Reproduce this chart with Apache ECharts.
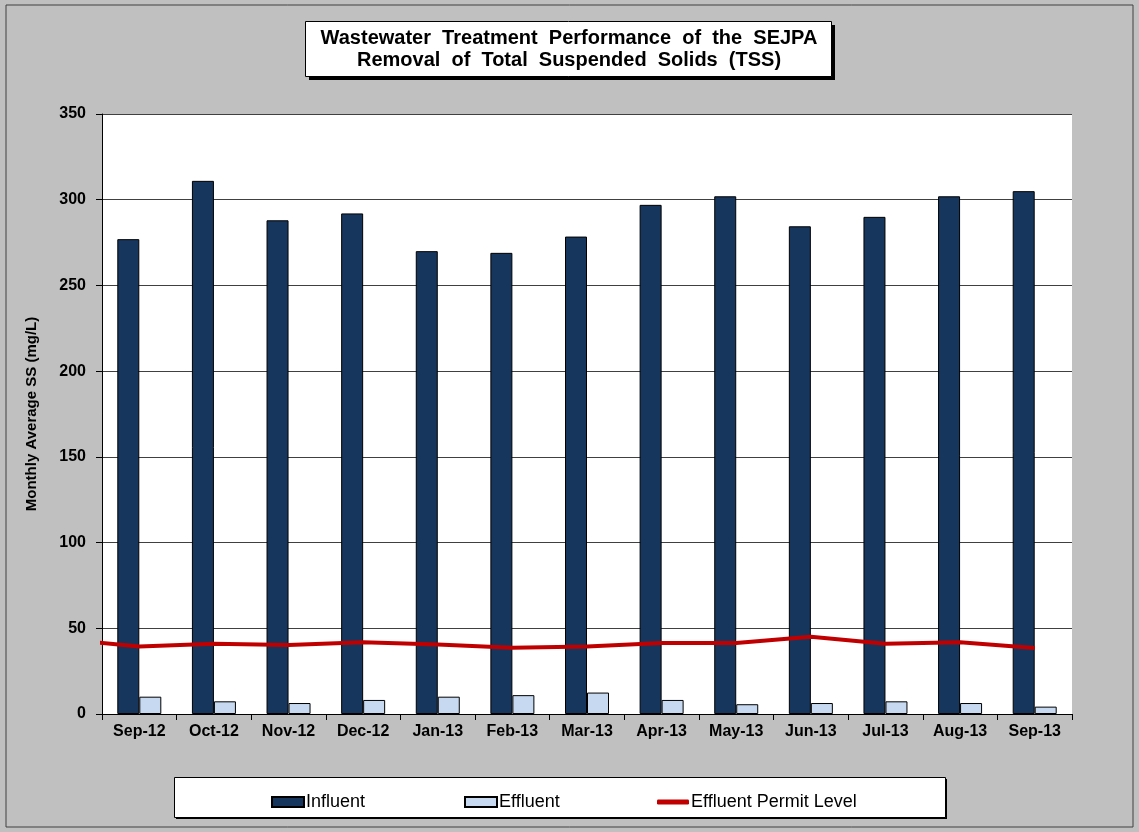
<!DOCTYPE html>
<html>
<head>
<meta charset="utf-8">
<script src="https://cdn.jsdelivr.net/npm/echarts@6/dist/echarts.min.js"></script>
<style>
html,body{margin:0;padding:0;background:#C0C0C0;}
#chart{width:1139px;height:832px;}
</style>
</head>
<body>
<div id="chart"></div>
<script>
const categories = ['Sep-12','Oct-12','Nov-12','Dec-12','Jan-13','Feb-13','Mar-13','Apr-13','May-13','Jun-13','Jul-13','Aug-13','Sep-13'];
const influent = [277, 311, 288, 292, 270, 269, 278.5, 297, 302, 284.5, 290, 302, 305];
const effluent = [10.1, 7.4, 6.4, 8.2, 10.1, 11.0, 12.5, 8.2, 5.7, 6.4, 7.4, 6.4, 4.3];
// permit level starts one month earlier (Aug-12), clipped at the plot edge
const permitLevel = [43.4, 39.4, 41.0, 40.2, 41.8, 40.6, 38.7, 39.4, 41.4, 41.4, 45.1, 41.0, 41.8, 38.5];
const yTicks = [0, 50, 100, 150, 200, 250, 300, 350];

const FONT = '"Liberation Sans", Arial, sans-serif';
const NARROW = '"Liberation Sans Narrow", "Liberation Sans", Arial, sans-serif';

const chart = echarts.init(document.getElementById('chart'), null, {renderer: 'canvas'});

const legendCommon = {
  orient: 'horizontal',
  top: 788,
  itemWidth: 32,
  itemHeight: 10,
  itemGap: 0,
  textStyle: {fontFamily: NARROW, fontSize: 18, color: '#000', padding: [0,0,0,-3]},
  selectedMode: false
};

chart.setOption({
  backgroundColor: '#C0C0C0',
  animation: false,
  graphic: [
    {type: 'rect', shape: {x: 6, y: 5, width: 1127, height: 822}, style: {fill: 'none', stroke: '#404040', lineWidth: 1}, z: 0},
    {type: 'rect', shape: {x: 309, y: 25, width: 526, height: 55}, style: {fill: '#000'}, z: 10},
    {type: 'rect', shape: {x: 305.5, y: 21.5, width: 526, height: 55}, style: {fill: '#fff', stroke: '#000', lineWidth: 1}, z: 11},
    {type: 'text', x: 569, y: 38, style: {text: 'Wastewater  Treatment  Performance  of  the  SEJPA', fontFamily: FONT, fontWeight: 'bold', fontSize: 20, fill: '#000', textAlign: 'center', textVerticalAlign: 'middle'}, z: 12},
    {type: 'text', x: 569, y: 60, style: {text: 'Removal  of  Total  Suspended  Solids  (TSS)', fontFamily: FONT, fontWeight: 'bold', fontSize: 20, fill: '#000', textAlign: 'center', textVerticalAlign: 'middle'}, z: 12},
    {type: 'rect', shape: {x: 176, y: 779, width: 771, height: 40}, style: {fill: '#000'}, z: 10},
    {type: 'rect', shape: {x: 174.5, y: 777.5, width: 771, height: 40}, style: {fill: '#fff', stroke: '#000', lineWidth: 1}, z: 11}
  ],
  legend: [
    Object.assign({}, legendCommon, {left: 266, data: [{name: 'Influent', icon: 'rect'}], z: 20}),
    Object.assign({}, legendCommon, {left: 459, data: [{name: 'Effluent', icon: 'rect'}], z: 20}),
    Object.assign({}, legendCommon, {left: 652, itemHeight: 5, data: [{name: 'Effluent Permit Level', icon: 'roundRect'}], z: 20})
  ],
  grid: {left: 102, right: 67, top: 114, bottom: 118, backgroundColor: '#fff', show: true, borderWidth: 0},
  xAxis: [
    {
      type: 'category',
      data: categories,
      boundaryGap: true,
      axisLine: {show: true, lineStyle: {color: '#000', width: 1}},
      axisTick: {show: true, length: 6, inside: false, alignWithLabel: false, lineStyle: {color: '#000'}},
      axisLabel: {fontFamily: FONT, fontWeight: 'bold', fontSize: 16, color: '#000', margin: 10, interval: 0},
      splitLine: {show: false}
    },
    {
      type: 'value',
      min: 0,
      max: categories.length,
      show: false,
      splitLine: {show: false}
    }
  ],
  yAxis: {
    type: 'value',
    min: 0,
    max: 350,
    interval: 50,
    name: 'Monthly Average SS (mg/L)',
    nameLocation: 'middle',
    nameRotate: 90,
    nameGap: 63,
    nameTextStyle: {fontFamily: FONT, fontWeight: 'bold', fontSize: 15, color: '#000'},
    axisLine: {show: true, lineStyle: {color: '#000', width: 1}},
    axisTick: {show: true, length: 6, lineStyle: {color: '#000'}},
    axisLabel: {fontFamily: FONT, fontWeight: 'bold', fontSize: 16, color: '#000', margin: 16,
      formatter: v => yTicks.includes(v) ? String(v) : ''},
    splitLine: {show: true, lineStyle: {color: '#404040', width: 1}}
  },
  series: [
    {
      name: 'Influent',
      type: 'bar',
      xAxisIndex: 0,
      data: influent,
      barWidth: 22,
      barGap: '0%',
      itemStyle: {color: '#17365D', borderColor: '#000', borderWidth: 1}
    },
    {
      name: 'Effluent',
      type: 'bar',
      xAxisIndex: 0,
      data: effluent,
      barWidth: 22,
      barGap: '0%',
      itemStyle: {color: '#C6D9F1', borderColor: '#000', borderWidth: 1}
    },
    {
      name: 'Effluent Permit Level',
      type: 'line',
      xAxisIndex: 1,
      data: permitLevel.map((v, i) => [i - 0.5, v]),
      clip: true,
      symbol: 'none',
      smooth: false,
      lineStyle: {color: '#C00000', width: 4},
      itemStyle: {color: '#C00000'},
      z: 5
    }
  ]
});
</script>
</body>
</html>
